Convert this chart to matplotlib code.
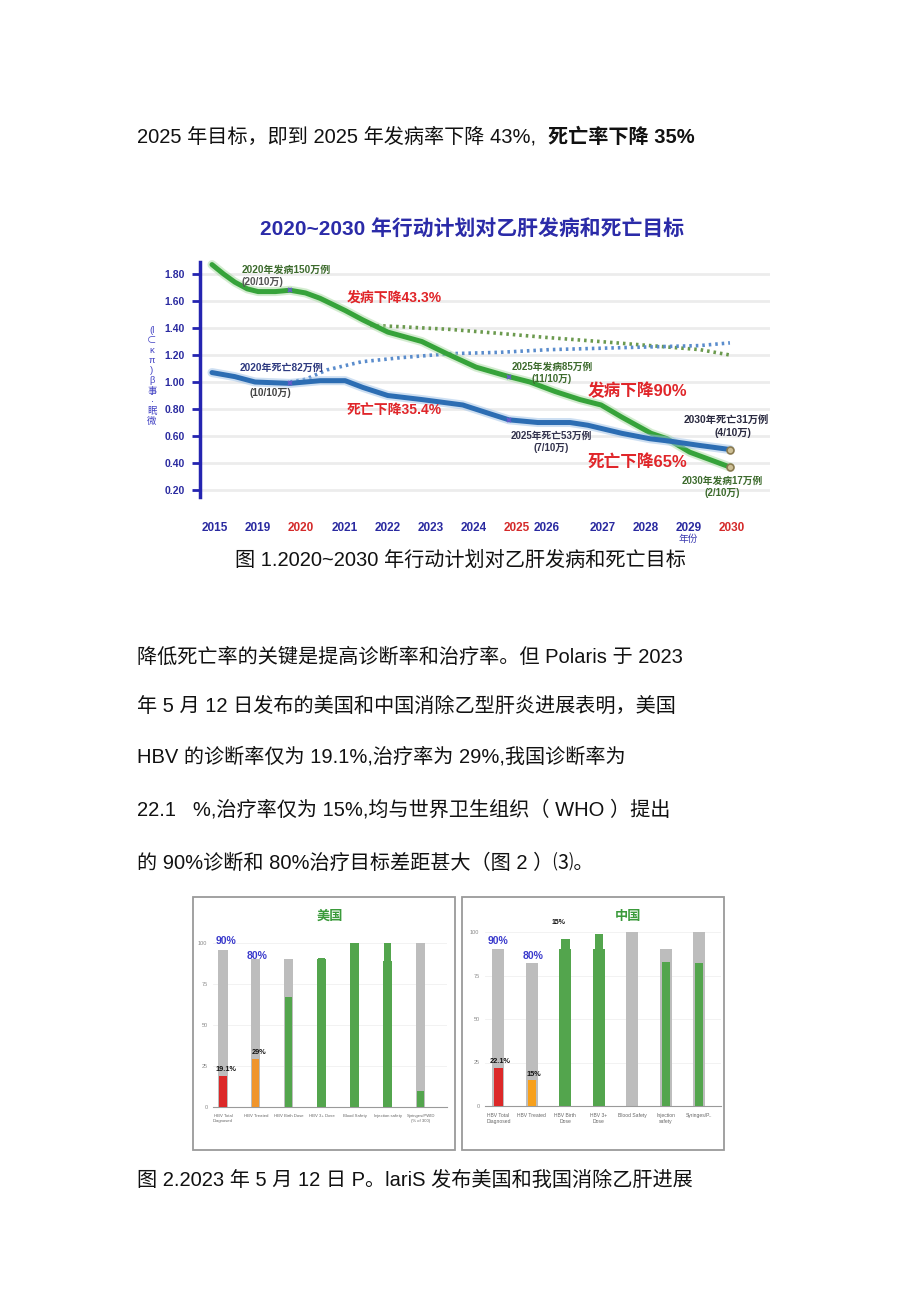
import matplotlib.pyplot as plt
from matplotlib.patches import Rectangle

W, H = 920, 1301
SANS = ['Liberation Sans', 'Noto Sans CJK SC', 'DejaVu Sans']
plt.rcParams['font.family'] = SANS

# ---- chart 1 data: incidence / death rate (per 10万), x in "year slot" units
year_labels = ['2015', '2019', '2020', '2021', '2022', '2023', '2024',
               '2025', '2026', '2027', '2028', '2029', '2030']
year_slots = [0, 1, 2, 3, 4, 5, 6, 7, 7.7, 9, 10, 11, 12]
red_years = ['2020', '2025', '2030']

inc_x = [-0.07, 0.2, 0.46, 0.75, 1.0, 1.4, 1.74, 2.1, 2.44, 3.02, 3.43, 4.01, 4.8, 5.38, 6.06,
         6.82, 7.31, 7.89, 8.47, 8.96, 9.44, 10.12, 10.49, 11.02, 11.95]
inc_y = [1.87, 1.80, 1.74, 1.69, 1.67, 1.67, 1.68, 1.66, 1.62, 1.53, 1.46, 1.37, 1.30, 1.21, 1.11,
         1.04, 1.00, 0.93, 0.87, 0.83, 0.74, 0.62, 0.58, 0.48, 0.37]
death_x = [-0.07, 0.46, 0.93, 1.74, 2.44, 3.02, 3.43, 4.01, 4.8, 5.75, 6.33,
           6.82, 7.49, 8.24, 8.65, 9.44, 10.09, 10.6, 11.25, 11.95]
death_y = [1.07, 1.04, 1.00, 0.99, 1.01, 1.01, 0.96, 0.90, 0.87, 0.83, 0.77,
           0.72, 0.70, 0.70, 0.68, 0.62, 0.58, 0.56, 0.53, 0.50]
inc_trend_x = [3.6, 4.29, 5.45, 6.61, 7.7, 8.93, 10.09, 11.25, 11.95]
inc_trend_y = [1.42, 1.41, 1.39, 1.36, 1.33, 1.30, 1.27, 1.24, 1.20]
death_trend_x = [1.74, 2.1, 2.6, 3.4, 4.3, 5.45, 6.61, 7.77, 8.93, 10.09, 11.25, 11.95]
death_trend_y = [1.00, 1.02, 1.09, 1.15, 1.18, 1.21, 1.22, 1.24, 1.25, 1.26, 1.27, 1.29]
milestone_slots = [1.74, 6.82]
milestone_inc = [1.68, 1.04]
milestone_death = [0.99, 0.72]

# ---- chart 2 data
us_cats = ['HBV Total\nDiagnosed', 'HBV Treated', 'HBV Birth Dose', 'HBV 3+ Dose',
           'Blood Safety', 'Injection safety', 'Syringes/PWID\n(% of 300)']
us_target = [96, 90, 90, 90, 100, 89, 100]
us_target_col = ['#bdbdbd', '#bdbdbd', '#bdbdbd', '#53a54d', '#53a54d', '#53a54d', '#bdbdbd']
us_actual = [19.1, 29, 67, 91, 100, 100, 10]
us_actual_col = ['#dc2828', '#f0952c', '#53a54d', '#53a54d', '#53a54d', '#53a54d', '#53a54d']

cn_cats = ['HBV Total\nDiagnosed', 'HBV Treated', 'HBV Birth\nDose', 'HBV 3+\nDose',
           'Blood Safety', 'Injection\nsafety', 'Syringes/P..']
cn_target = [90, 82, 90, 90, 100, 90, 100]
cn_target_col = ['#bdbdbd', '#bdbdbd', '#53a54d', '#53a54d', '#bdbdbd', '#bdbdbd', '#bdbdbd']
cn_actual = [22.1, 15, 96, 99, 0, 82.5, 82]
cn_actual_col = ['#dc2828', '#f7a01c', '#53a54d', '#53a54d', '#bdbdbd', '#53a54d', '#53a54d']

fig = plt.figure(figsize=(W / 100, H / 100), dpi=100)


def ftext(x, y, s, **kw):
    return fig.text(x / W, 1 - y / H, s, **kw)


def add_ax(l, t, r, b):
    return fig.add_axes([l / W, 1 - b / H, (r - l) / W, (b - t) / H])


BODY = dict(fontsize=14.5, color='#111111', va='center')

# ---- page text
ftext(137, 137, '2025 年目标，即到 2025 年发病率下降 43%,', ha='left', **BODY)
ftext(695, 137, '死亡率下降 35%', ha='right', fontweight='bold', **BODY)
ftext(460, 560, '图 1.2020~2030 年行动计划对乙肝发病和死亡目标', ha='center', **BODY)
para = ['降低死亡率的关键是提高诊断率和治疗率。但 Polaris 于 2023',
        '年 5 月 12 日发布的美国和中国消除乙型肝炎进展表明，美国',
        'HBV 的诊断率仅为 19.1%,治疗率为 29%,我国诊断率为',
        '22.1   %,治疗率仅为 15%,均与世界卫生组织（ WHO ）提出',
        '的 90%诊断和 80%治疗目标差距甚大（图 2 ）⑶。']
for s, y in zip(para, [657, 706, 757, 810, 863]):
    ftext(137, y, s, ha='left', **BODY)
ftext(137, 1180, '图 2.2023 年 5 月 12 日 P。lariS 发布美国和我国消除乙肝进展', ha='left', **BODY)

# ---- chart 1
ftext(472, 230, '2020~2030 年行动计划对乙肝发病和死亡目标', ha='center', va='center',
      fontsize=15, fontweight='bold', color='#2b2ba8')

ax = add_ax(200, 255, 770, 500)
ax.set_xlim(-0.348, 12.88)
ax.set_ylim(0.126, 1.941)
for s in ['top', 'right', 'bottom']:
    ax.spines[s].set_visible(False)
ax.spines['left'].set_color('#2424b0')
ax.spines['left'].set_linewidth(2.5)
ax.spines['left'].set_bounds(0.15, 1.89)
yt = [0.2, 0.4, 0.6, 0.8, 1.0, 1.2, 1.4, 1.6, 1.8]
ax.set_yticks(yt, [f'{v:.2f}' for v in yt])
ax.tick_params(axis='y', length=6, width=2, color='#2424b0', pad=5,
               labelsize=7.5, labelcolor='#2a2aa0')
for lab in ax.get_yticklabels():
    lab.set_fontweight('bold')
ax.set_xticks(year_slots, year_labels)
ax.tick_params(axis='x', length=0, pad=16, labelsize=8.5)
for lab in ax.get_xticklabels():
    lab.set_fontweight('bold')
    lab.set_color('#d42a2a' if lab.get_text() in red_years else '#2a2aa0')
ax.grid(axis='y', color='#ececec', lw=2)
ax.set_axisbelow(True)

ax.plot(inc_trend_x, inc_trend_y, color='#6b9a4e', lw=2.6, ls=(0, (0.7, 1.1)))
ax.plot(death_trend_x, death_trend_y, color='#5a8ccc', lw=2.6, ls=(0, (0.7, 1.1)))
ax.plot(inc_x, inc_y, color='#a9dba3', lw=6.5, alpha=0.5, solid_capstyle='round',
        solid_joinstyle='round')
ax.plot(inc_x, inc_y, color='#36a33a', lw=3.6, solid_capstyle='round', solid_joinstyle='round')
ax.plot(death_x, death_y, color='#9cc0e6', lw=6.5, alpha=0.5, solid_capstyle='round',
        solid_joinstyle='round')
ax.plot(death_x, death_y, color='#2c6db3', lw=3.6, solid_capstyle='round', solid_joinstyle='round')
ax.plot(milestone_slots, milestone_inc, 'x', color='#6a5acd', ms=3.5, mew=1.2)
ax.plot(milestone_slots, milestone_death, 'x', color='#6a5acd', ms=3.5, mew=1.2)
ax.plot([inc_x[-1], death_x[-1]], [inc_y[-1], death_y[-1]], 'o', ms=5,
        mfc='#cdbf95', mec='#8a7a50', mew=1.2)

ychars = ['(l', '⊂', 'κ', 'π', ')', 'β', '事', '·', '眠', '微']
ftext(152, 376, '\n'.join(ychars), ha='center', va='center', fontsize=6.8,
      color='#4444c4', linespacing=1.15)
ftext(688, 539, '年份', ha='center', va='center', fontsize=7, color='#3a3ab0')

GRN = '#3d6b2d'
NAV = '#2e3a80'
RED = '#e0262a'
ann = [(286, 270, '2020年发病150万例', GRN, 7.2), (262, 282, '(20/10万)', '#555555', 7.2),
       (282, 368, '2020年死亡82万例', NAV, 7.2), (270, 393, '(10/10万)', '#444444', 7.2),
       (552, 367, '2025年发病85万例', GRN, 7.0), (552, 379, '(11/10万)', GRN, 7.0),
       (551, 436, '2025年死亡53万例', '#33334d', 7.0), (551, 448, '(7/10万)', '#33334d', 7.0),
       (726, 420, '2030年死亡31万例', '#2a2a40', 7.4), (733, 433, '(4/10万)', '#2a2a40', 7.4),
       (722, 481, '2030年发病17万例', GRN, 7.0), (722, 493, '(2/10万)', GRN, 7.0),
       (394, 298, '发病下降43.3%', RED, 10), (394, 410, '死亡下降35.4%', RED, 10),
       (637, 391, '发病下降90%', RED, 12), (637, 462, '死亡下降65%', RED, 12)]
for x, y, s, c, fs in ann:
    ftext(x, y, s, ha='center', va='center', fontsize=fs, color=c, fontweight='bold')

# ---- chart 2: two panels
for l, r in [(193, 455), (462, 724)]:
    fig.patches.append(Rectangle((l / W, 1 - 1150 / H), (r - l) / W, (1150 - 897) / H,
                                 transform=fig.transFigure, fill=False,
                                 ec='#9a9a9a', lw=1.3))
ftext(330, 917, '美国', ha='center', va='center', fontsize=9.5, fontweight='bold', color='#3a9a3a')
ftext(628, 917, '中国', ha='center', va='center', fontsize=9.5, fontweight='bold', color='#3a9a3a')


def bar_panel(box, xlim, cats, target, tcol, actual, acol, wide, narrow, xfs):
    bx = add_ax(*box)
    pos = range(len(cats))
    bx.bar(pos, target, width=wide, color=tcol, zorder=2)
    bx.bar(pos, actual, width=narrow, color=acol, zorder=3)
    bx.set_xlim(*xlim)
    bx.set_ylim(0, 100)
    bx.set_yticks([0, 25, 50, 75, 100])
    bx.tick_params(axis='y', length=0, labelsize=4, labelcolor='#888888', pad=4)
    bx.set_xticks(list(pos), cats)
    bx.tick_params(axis='x', length=0, labelsize=xfs, labelcolor='#666666', pad=5)
    bx.grid(axis='y', color='#f0f0f0', lw=0.6)
    bx.set_axisbelow(True)
    for s in ['top', 'right', 'left']:
        bx.spines[s].set_visible(False)
    bx.spines['bottom'].set_color('#9a9a9a')
    bx.spines['bottom'].set_linewidth(0.8)
    return bx


bu = bar_panel((213, 943, 447, 1107), (-0.3, 6.8), us_cats, us_target, us_target_col,
               us_actual, us_actual_col, 0.28, 0.22, 3.1)
bc = bar_panel((485, 932, 721, 1106), (-0.4, 6.65), cn_cats, cn_target, cn_target_col,
               cn_actual, cn_actual_col, 0.36, 0.25, 3.6)

TB = dict(ha='center', va='center', fontweight='bold', clip_on=False)
bu.text(0.1, 101, '90%', fontsize=7.5, color='#3a3acc', **TB)
bu.text(1.05, 92, '80%', fontsize=7.5, color='#3a3acc', **TB)
bu.text(0.1, 23, '19.1%', fontsize=5.3, color='#111111', **TB)
bu.text(1.1, 33.5, '29%', fontsize=5.3, color='#111111', **TB)
bc.text(0.0, 95, '90%', fontsize=7.5, color='#3a3acc', **TB)
bc.text(1.05, 86, '80%', fontsize=7.5, color='#3a3acc', **TB)
bc.text(0.05, 25.5, '22.1%', fontsize=5.3, color='#111111', **TB)
bc.text(1.05, 18, '15%', fontsize=5.3, color='#111111', **TB)
bc.text(1.81, 105.7, '15%', fontsize=5, color='#111111', **TB)

fig.savefig('out.png', dpi=100, facecolor='white')
